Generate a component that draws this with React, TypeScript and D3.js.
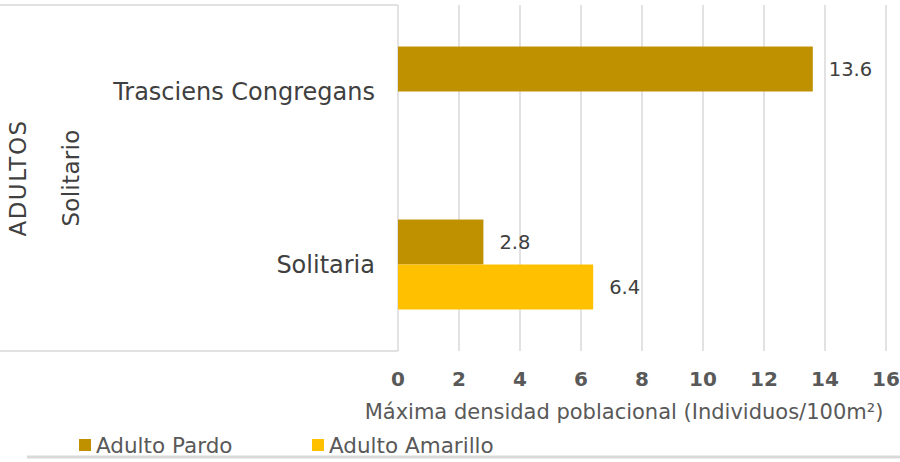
import React, { useEffect, useRef } from "react";
import * as d3 from "d3";

const categories = ["Trasciens Congregans", "Solitaria"];
const seriesNames = ["Adulto Pardo", "Adulto Amarillo"];
const pardoValues = [13.6, 2.8];
const amarilloValues: (number | null)[] = [null, 6.4];
const xTicks = [0, 2, 4, 6, 8, 10, 12, 14, 16];
const groupLabels = ["ADULTOS", "Solitario"];
const xTitle = "Máxima densidad poblacional (Individuos/100m²)";

const colors = ["#BF9000", "#FFC000"];
const FONT = "'DejaVu Sans', 'Open Sans', sans-serif";

export default function App() {
  const ref = useRef<SVGSVGElement>(null);

  useEffect(() => {
    const width = 900;
    const height = 462;
    const svg = d3.select(ref.current);
    svg.selectAll("*").remove();
    svg.attr("width", width).attr("height", height).attr("font-family", FONT);

    svg.append("rect").attr("width", width).attr("height", height).attr("fill", "#fff");

    const x = d3.scaleLinear().domain([0, 16]).range([398, 886]);
    const y = d3
      .scaleBand()
      .domain(categories)
      .range([5, 351])
      .paddingInner(0.48)
      .paddingOuter(0.24);
    const ySub = d3.scaleBand().domain(seriesNames).range([0, y.bandwidth()]);

    // label area box
    svg
      .append("path")
      .attr("d", `M0,5H${x(0)}M0,351H${x(0)}`)
      .attr("stroke", "#d9d9d9")
      .attr("stroke-width", 1.5)
      .attr("fill", "none");

    // grid
    svg
      .selectAll("line.grid")
      .data(xTicks)
      .join("line")
      .attr("class", "grid")
      .attr("x1", d => x(d))
      .attr("x2", d => x(d))
      .attr("y1", 5)
      .attr("y2", 351)
      .attr("stroke", "#d9d9d9")
      .attr("stroke-width", 1.5);

    const rows = categories.map((c, i) => ({
      cat: c,
      vals: [pardoValues[i], amarilloValues[i]]
    }));

    rows.forEach(row => {
      row.vals.forEach((v, j) => {
        if (v == null) return;
        const yy = (y(row.cat) as number) + (ySub(seriesNames[j]) as number);
        svg
          .append("rect")
          .attr("x", x(0))
          .attr("y", yy)
          .attr("width", x(v) - x(0))
          .attr("height", ySub.bandwidth())
          .attr("fill", colors[j]);
        svg
          .append("text")
          .attr("x", x(v) + 16)
          .attr("y", yy + ySub.bandwidth() / 2)
          .attr("dy", "0.35em")
          .attr("font-size", 19.5)
          .attr("fill", "#404040")
          .text(String(v));
      });
    });

    // category labels
    svg
      .selectAll("text.cat")
      .data(categories)
      .join("text")
      .attr("class", "cat")
      .attr("x", 375)
      .attr("y", d => (y(d) as number) + y.bandwidth() / 2)
      .attr("dy", "0.35em")
      .attr("text-anchor", "end")
      .attr("font-size", 24)
      .attr("fill", "#404040")
      .text(d => d);

    // rotated group labels
    const gx = [18, 71];
    groupLabels.forEach((g, i) => {
      svg
        .append("text")
        .attr("transform", `translate(${gx[i]},178) rotate(-90)`)
        .attr("dy", "0.35em")
        .attr("text-anchor", "middle")
        .attr("font-size", 23)
        .attr("letter-spacing", i === 0 ? 1.5 : 0.3)
        .attr("fill", "#404040")
        .text(g);
    });

    // tick labels
    svg
      .selectAll("text.tick")
      .data(xTicks)
      .join("text")
      .attr("class", "tick")
      .attr("x", d => x(d))
      .attr("y", 379)
      .attr("dy", "0.35em")
      .attr("text-anchor", "middle")
      .attr("font-size", 20)
      .attr("font-weight", "bold")
      .attr("fill", "#595959")
      .text(d => d);

    svg
      .append("text")
      .attr("x", 624)
      .attr("y", 412)
      .attr("dy", "0.35em")
      .attr("text-anchor", "middle")
      .attr("font-size", 21)
      .attr("fill", "#595959")
      .text(xTitle);

    // legend
    const lx = [79, 312];
    seriesNames.forEach((s, i) => {
      svg
        .append("rect")
        .attr("x", lx[i])
        .attr("y", 439)
        .attr("width", 12)
        .attr("height", 12)
        .attr("fill", colors[i]);
      svg
        .append("text")
        .attr("x", lx[i] + 17)
        .attr("y", 445)
        .attr("dy", "0.35em")
        .attr("font-size", 21.5)
        .attr("fill", "#595959")
        .text(s);
    });

    svg
      .append("line")
      .attr("x1", 27)
      .attr("x2", 900)
      .attr("y1", 457)
      .attr("y2", 457)
      .attr("stroke", "#d9d9d9")
      .attr("stroke-width", 3);
  }, []);

  return (
    <div style={{ position: "absolute", left: 0, top: 0 }}>
      <svg ref={ref} />
    </div>
  );
}
